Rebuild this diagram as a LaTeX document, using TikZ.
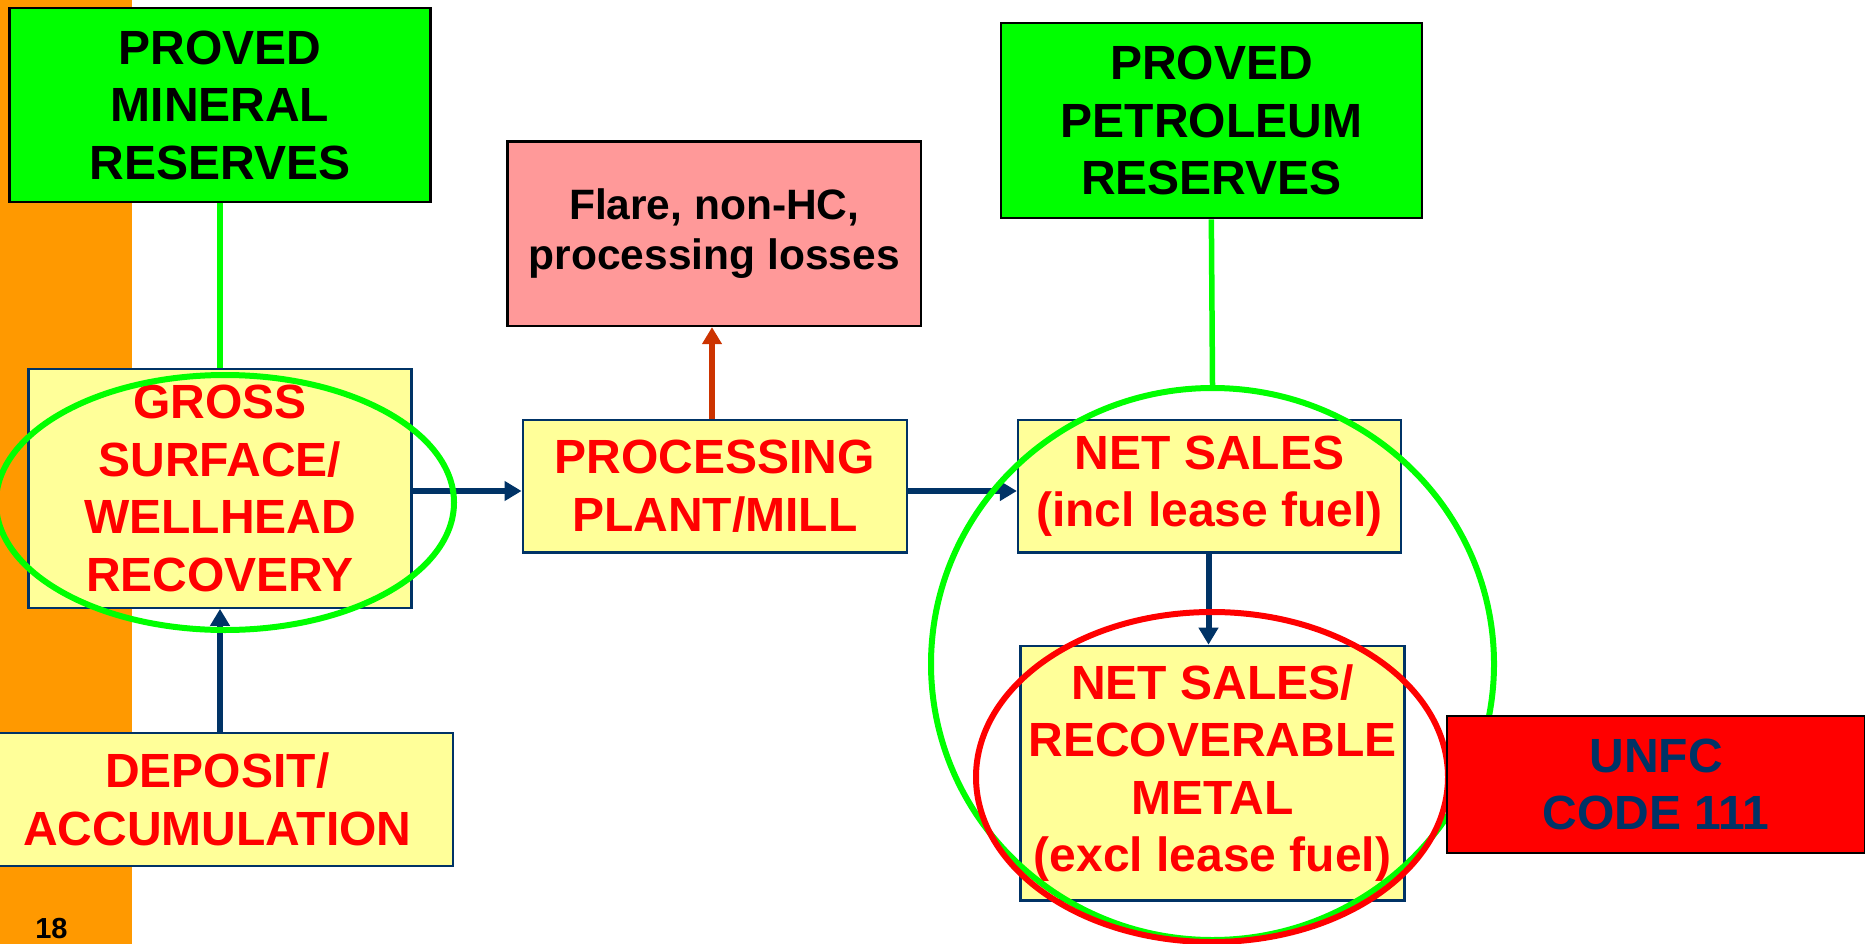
\documentclass[tikz,border=0pt]{standalone}
\usepackage{fontspec}
\setmainfont{Liberation Sans}
\usetikzlibrary{arrows.meta,shapes.geometric}
\definecolor{cnavy}{HTML}{003366}
\definecolor{cyel}{HTML}{FFFF99}
\definecolor{cgreen}{HTML}{00FF00}
\definecolor{cpink}{HTML}{FF9999}
\definecolor{corange}{HTML}{FF9900}
\definecolor{cbrick}{HTML}{CC3300}
\definecolor{cred}{HTML}{FF0000}
\begin{document}
\begin{tikzpicture}[x=1pt,y=-1pt,
  box/.style={rectangle, inner sep=0pt, align=center, font=\fontsize{48}{57.5}\selectfont\bfseries},
  ybox/.style={box, draw=cnavy, line width=2.3pt, fill=cyel, text=cred},
  gbox/.style={box, draw=black, line width=2.3pt, fill=cgreen, text=black},
  arr/.style={line width=6pt, -{Triangle[length=17pt,width=19pt]}},
  gline/.style={draw=cgreen, line width=5.5pt},
  ring/.style={ellipse, line width=6pt, inner sep=0pt}]
\useasboundingbox (0,0) rectangle (1865,944);
\clip (0,0) rectangle (1865,944);
\fill[white] (0,0) rectangle (1865,944);
\fill[corange] (0,0) rectangle (132,944);
% boxes
\node[gbox, minimum width=421pt, minimum height=194pt] (mineral) at (220,105) {PROVED\\MINERAL\\RESERVES};
\node[ybox, minimum width=383pt, minimum height=238.5pt] (gross) at (220,488.5) {GROSS\\SURFACE/\\WELLHEAD\\RECOVERY};
\node[ybox, minimum width=471pt, minimum height=133pt] (deposit) at (217.3,799.5) {DEPOSIT/\\ACCUMULATION};
\node[ybox, minimum width=384pt, minimum height=132.5pt] (processing) at (714.7,486.25) {PROCESSING\\PLANT/MILL};
\node[box, draw=black, line width=2.3pt, fill=cpink, text=black, font=\fontsize{42.5}{50}\selectfont\bfseries, minimum width=413.5pt, minimum height=184.5pt] (flare) at (714.25,233.75) {Flare, non-HC,\\processing losses};
\node[gbox, minimum width=421.3pt, minimum height=195pt] (petroleum) at (1211.35,120.8) {PROVED\\PETROLEUM\\RESERVES};
\node[ybox, minimum width=383pt, minimum height=132.5pt] (netsales) at (1209.5,486.25) {NET SALES\\(incl lease fuel)};
\node[ybox, minimum width=384pt, minimum height=254.6pt] (recover) at (1212.6,773.1) {NET SALES/\\RECOVERABLE\\METAL\\(excl lease fuel)};
\node[font=\fontsize{29}{29}\selectfont\bfseries, inner sep=0pt] (pg) at (51.5,929) {18};
% connectors
\draw[gline] (mineral.south) -- (gross.north);
\draw[arr, cnavy] (deposit.north -| gross.south) -- (gross.south);
\draw[arr, cnavy] (gross.east |- 0,491) -- (processing.west |- 0,491);
\draw[arr, cbrick] (processing.north -| 712,0) -- (flare.south -| 712,0);
\draw[arr, cnavy] (processing.east |- 0,491) -- (netsales.west |- 0,491);
\draw[arr, cnavy] (netsales.south -| 1208.5,0) -- (recover.north -| 1208.5,0);
% rings
\node[ring, draw=cgreen, minimum width=458pt, minimum height=255pt] (grossring) at (225,502.5) {};
\node[ring, draw=cgreen, minimum width=563pt, minimum height=552pt] (bigring) at (1212.5,664) {};
\draw[gline] (petroleum.south) -- (bigring.north);
\node[ring, draw=cred, minimum width=472pt, minimum height=330pt] (redring) at (1212,777) {};
% UNFC
\node[box, draw=black, line width=2.3pt, fill=cred, text=cnavy, minimum width=418pt, minimum height=136.7pt] (unfc) at (1656,784.35) {UNFC\\CODE 111};
\end{tikzpicture}
\end{document}
